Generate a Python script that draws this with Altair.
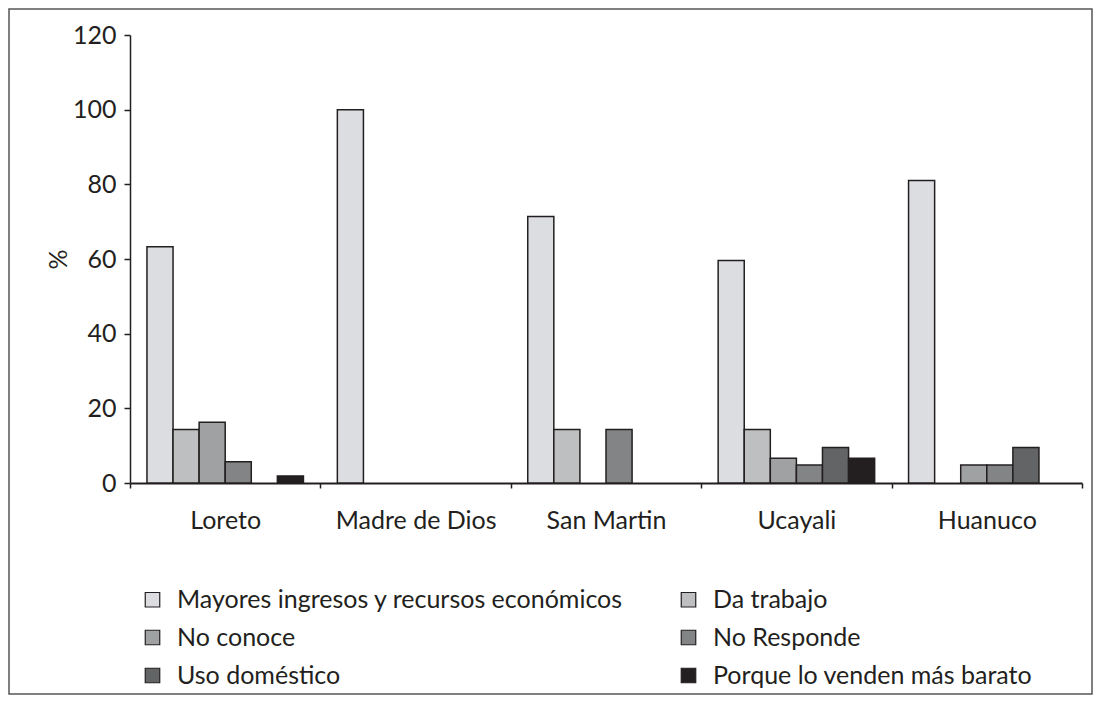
import altair as alt
import pandas as pd

regions = ["Loreto", "Madre de Dios", "San Martin", "Ucayali", "Huanuco"]
series = [
    "Mayores ingresos y recursos económicos",
    "Da trabajo",
    "No conoce",
    "No Responde",
    "Uso doméstico",
    "Porque lo venden más barato",
]
mayores = [63.3, 100.0, 71.4, 59.6, 81.0]
da_trabajo = [14.3, 0.0, 14.3, 14.3, 0.0]
no_conoce = [16.3, 0.0, 0.0, 6.6, 4.8]
no_responde = [5.7, 0.0, 14.3, 4.8, 4.8]
uso_domestico = [0.0, 0.0, 0.0, 9.5, 9.5]
porque_barato = [1.9, 0.0, 0.0, 6.6, 0.0]
y_ticks = [0, 20, 40, 60, 80, 100, 120]

colors = ["#dcdde0", "#bebfc1", "#a0a1a3", "#838486", "#636466", "#231f20"]

# legend is filled column by column: first column gets entries 0, 2, 4
legend_order = [0, 2, 4, 1, 3, 5]
legend_domain = [series[i] for i in legend_order]
legend_range = [colors[i] for i in legend_order]

all_vals = [mayores, da_trabajo, no_conoce, no_responde, uso_domestico, porque_barato]
rows = []
for s, vals in zip(series, all_vals):
    for r, v in zip(regions, vals):
        rows.append({"region": r, "serie": s, "value": v})
df = pd.DataFrame(rows)

FONT = "Lato"
INK = "#231f20"
FS = 25

bars = (
    alt.Chart(df)
    .transform_filter("datum.value > 0")
    .mark_bar(stroke=INK, strokeWidth=1.5)
    .encode(
        x=alt.X(
            "region:N",
            sort=regions,
            scale=alt.Scale(domain=regions, paddingInner=0, paddingOuter=0),
            axis=alt.Axis(
                title=None,
                labelAngle=0,
                labelFontSize=FS,
                labelFont=FONT,
                labelColor=INK,
                labelPadding=20,
                tickBand="extent",
                tickSize=5,
                tickColor=INK,
                tickWidth=1.5,
                domainColor=INK,
                domainWidth=2,
            ),
        ),
        xOffset=alt.XOffset(
            "serie:N",
            scale=alt.Scale(domain=series, paddingInner=0, paddingOuter=0.65),
        ),
        y=alt.Y(
            "value:Q",
            scale=alt.Scale(domain=[0, 120], nice=False),
            axis=alt.Axis(
                values=y_ticks,
                title="%",
                titleFontSize=FS,
                titleFont=FONT,
                titleFontWeight="normal",
                titleColor=INK,
                titleX=-72,
                titleY=224,
                titleAlign="center",
                titleBaseline="middle",
                labelFontSize=FS,
                labelFont=FONT,
                labelColor=INK,
                labelPadding=8,
                tickSize=6,
                tickColor=INK,
                tickWidth=1.5,
                domainColor=INK,
                domainWidth=1.5,
                grid=False,
            ),
        ),
        color=alt.Color(
            "serie:N",
            scale=alt.Scale(domain=legend_domain, range=legend_range),
            legend=alt.Legend(
                title=None,
                orient="none",
                legendX=10,
                legendY=552,
                columns=2,
                columnPadding=52,
                rowPadding=12,
                symbolType="square",
                symbolSize=210,
                symbolStrokeColor=INK,
                symbolStrokeWidth=1.2,
                labelFontSize=FS,
                labelFont=FONT,
                labelColor=INK,
                labelOffset=12,
                labelLimit=700,
                padding=0,
            ),
        ),
    )
)

frame = (
    alt.Chart(pd.DataFrame({"k": [0]}))
    .mark_rect(fill=None, stroke="#555555", strokeWidth=1.5)
    .encode(
        x=alt.value(-121),
        x2=alt.value(962),
        y=alt.value(-26),
        y2=alt.value(659),
    )
)

chart = (
    alt.layer(bars, frame)
    .properties(
        width=952,
        height=448,
        autosize=alt.AutoSizeParams(type="none"),
        padding={"left": 122, "top": 27, "right": 11, "bottom": 213},
    )
    .configure_view(stroke=None)
)

chart.save("out.html", embed_options={"renderer": "svg", "actions": False})
